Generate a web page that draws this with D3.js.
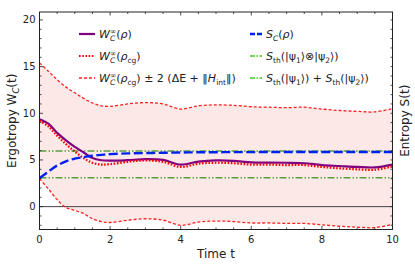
<!DOCTYPE html>
<html>
<head>
<meta charset="utf-8">
<script src="https://cdn.jsdelivr.net/npm/d3@7"></script>
<style>
body { margin: 0; background: white; }
svg { display: block; font-family: "DejaVu Sans", sans-serif; }
</style>
</head>
<body>
<svg></svg>
<script>
var w = 415;
var h = 268;

// time grid
var times = [0, 0.25, 0.5, 0.75, 1, 1.25, 1.5, 1.75, 2, 2.5, 3, 3.5, 4, 4.5, 5, 5.5, 6, 6.5, 7, 7.5, 8, 8.5, 9, 9.5, 10];
// W_C^inf(rho)
var wRho = [9.35, 8.9, 7.9, 7.1, 6.4, 5.8, 5.2, 4.97, 4.92, 4.98, 5.08, 5.0, 4.5, 4.82, 4.95, 4.9, 4.75, 4.72, 4.7, 4.65, 4.45, 4.35, 4.25, 4.2, 4.5];
// W_C^inf(rho_cg)
var wCg = [9.2, 8.6, 7.6, 6.7, 5.9, 5.2, 4.7, 4.5, 4.55, 4.8, 4.95, 4.8, 4.25, 4.6, 4.7, 4.65, 4.5, 4.5, 4.45, 4.45, 4.25, 4.1, 4.0, 3.95, 4.3];
// bounds of the band
var upper = [15.4, 14.5, 13.6, 12.8, 12.2, 11.6, 11.1, 10.8, 10.75, 11.0, 11.15, 11.0, 10.45, 10.8, 10.9, 10.85, 10.7, 10.65, 10.6, 10.65, 10.45, 10.3, 10.2, 10.15, 10.5];
var lower = [3.0, 1.9, 0.75, -0.1, -0.4, -0.75, -1.3, -1.6, -1.7, -1.45, -1.3, -1.45, -2.0, -1.65, -1.55, -1.6, -1.75, -1.75, -1.8, -1.8, -1.95, -2.1, -2.2, -2.25, -1.9];
// S_C(rho)
var sRho = [3.05, 3.75, 4.4, 4.85, 5.15, 5.3, 5.45, 5.55, 5.62, 5.7, 5.74, 5.77, 5.8, 5.82, 5.83, 5.84, 5.84, 5.85, 5.85, 5.85, 5.85, 5.85, 5.85, 5.85, 5.85];
var sThProduct = 5.97;
var sThSum = 3.1;

var xTicks = [0, 2, 4, 6, 8, 10];
var yTicks = [0, 5, 10, 15, 20];

var pl = 39.5, pr = 392.5, pt = 12, pb = 229.5;

var canvas = d3.select("svg")
	.attr("width", w)
	.attr("height", h);

var x = d3.scaleLinear().domain([0, 10]).range([pl, pr]);
var y = d3.scaleLinear().domain([-2.45, 20.85]).range([pb, pt]);

var clip = canvas.append("defs").append("clipPath").attr("id", "clip");
clip.append("rect").attr("x", pl).attr("y", pt).attr("width", pr - pl).attr("height", pb - pt);

var plot = canvas.append("g").attr("clip-path", "url(#clip)");

var rows = times.map(function (t, i) {
	return { t: t, w: wRho[i], cg: wCg[i], up: upper[i], lo: lower[i], s: sRho[i] };
});

var curve = d3.curveCatmullRom;

// band
plot.append("path")
	.datum(rows)
	.attr("d", d3.area().x(d => x(d.t)).y0(d => y(d.lo)).y1(d => y(d.up)).curve(curve))
	.attr("fill", "#fde8e8");

// zero line
plot.append("line")
	.attr("x1", pl).attr("x2", pr)
	.attr("y1", y(0)).attr("y2", y(0))
	.attr("stroke", "#444").attr("stroke-width", 1);

function line(key) {
	return d3.line().x(d => x(d.t)).y(d => y(d[key])).curve(curve);
}

// entropy reference lines
[sThProduct, sThSum].forEach(function (v) {
	plot.append("line")
		.attr("x1", pl).attr("x2", pr)
		.attr("y1", y(v)).attr("y2", y(v))
		.attr("stroke", "#55a03c").attr("stroke-width", 1.5)
		.attr("stroke-dasharray", "7,2,1.5,2,1.5,2");
});

["up", "lo"].forEach(function (k) {
	plot.append("path").datum(rows)
		.attr("d", line(k))
		.attr("fill", "none").attr("stroke", "#ff2020")
		.attr("stroke-width", 1.3).attr("stroke-dasharray", "3,2");
});

plot.append("path").datum(rows)
	.attr("d", line("w"))
	.attr("fill", "none").attr("stroke", "#800080").attr("stroke-width", 2.2);

plot.append("path").datum(rows)
	.attr("d", line("cg"))
	.attr("fill", "none").attr("stroke", "#ff0000")
	.attr("stroke-width", 2.2).attr("stroke-dasharray", "1.6,1.6");

plot.append("path").datum(rows)
	.attr("d", line("s"))
	.attr("fill", "none").attr("stroke", "#0022ee")
	.attr("stroke-width", 2.4).attr("stroke-dasharray", "9,3.5");

// frame
canvas.append("rect")
	.attr("x", pl).attr("y", pt)
	.attr("width", pr - pl).attr("height", pb - pt)
	.attr("fill", "none").attr("stroke", "#222").attr("stroke-width", 1);

// ticks (all inward)
var ticks = canvas.append("g").attr("stroke", "#222").attr("stroke-width", 0.8);
d3.range(0, 10.01, 0.5).forEach(function (t) {
	var major = xTicks.indexOf(t) >= 0;
	var len = major ? 3.5 : 2;
	ticks.append("line").attr("x1", x(t)).attr("x2", x(t)).attr("y1", pb).attr("y2", pb - len);
	ticks.append("line").attr("x1", x(t)).attr("x2", x(t)).attr("y1", pt).attr("y2", pt + len);
});
d3.range(-2, 20.01, 1).forEach(function (v) {
	var major = yTicks.indexOf(v) >= 0;
	var len = major ? 3.5 : 2;
	ticks.append("line").attr("x1", pl).attr("x2", pl + len).attr("y1", y(v)).attr("y2", y(v));
	ticks.append("line").attr("x1", pr).attr("x2", pr - 2).attr("y1", y(v)).attr("y2", y(v));
});

canvas.append("g").selectAll("text")
	.data(xTicks).join("text")
	.attr("x", d => x(d)).attr("y", pb + 13)
	.attr("text-anchor", "middle")
	.style("font-size", "10px").attr("fill", "#222")
	.text(d => d);

canvas.append("g").selectAll("text")
	.data(yTicks).join("text")
	.attr("x", pl - 4).attr("y", d => y(d) + 3.5)
	.attr("text-anchor", "end")
	.style("font-size", "10px").attr("fill", "#222")
	.text(d => d);

// axis labels
canvas.append("text")
	.attr("x", (pl + pr) / 2).attr("y", 258)
	.attr("text-anchor", "middle").style("font-size", "12px").attr("fill", "#222")
	.text("Time t");

var yl = canvas.append("text")
	.attr("transform", "translate(16," + ((pt + pb) / 2) + ") rotate(-90)")
	.attr("text-anchor", "middle").style("font-size", "12px").attr("fill", "#222");
yl.append("tspan").text("Ergotropy W");
yl.append("tspan").text("C").attr("dy", 3).style("font-size", "8.5px").style("font-style", "italic");
yl.append("tspan").text("(t)").attr("dy", -3);

canvas.append("text")
	.attr("transform", "translate(409," + ((pt + pb) / 2) + ") rotate(-90)")
	.attr("text-anchor", "middle").style("font-size", "12px").attr("fill", "#222")
	.text("Entropy S(t)");

// legend
function mathText(g, tx, ty, parts) {
	var text = g.append("text").attr("x", tx).attr("y", ty)
		.style("font-size", "11px").attr("fill", "#222");
	var cur = 0;
	parts.forEach(function (p) {
		var target = p.k === "sup" ? -4 : p.k === "sub" ? 3 : 0;
		var ts = text.append("tspan").text(p.t).attr("dy", target - cur);
		if (p.dx) ts.attr("dx", p.dx);
		if (p.k) ts.style("font-size", "7.5px");
		if (p.i) ts.style("font-style", "italic");
		cur = target;
	});
}

var W = [{ t: "W", i: 1 }, { t: "∞", k: "sup" }, { t: "C", k: "sub", i: 1, dx: -6.2 }];

var legend = [
	{ x: 79, y: 35, stroke: "#800080", sw: 2.2, dash: null,
		parts: W.concat([{ t: "(", dx: 1 }, { t: "ρ", i: 1 }, { t: ")" }]) },
	{ x: 79, y: 57, stroke: "#ff0000", sw: 2.2, dash: "1.6,1.6",
		parts: W.concat([{ t: "(", dx: 1 }, { t: "ρ", i: 1 }, { t: "cg", k: "sub" }, { t: ")" }]) },
	{ x: 79, y: 79, stroke: "#ff2020", sw: 1.3, dash: "3,2",
		parts: W.concat([{ t: "(", dx: 1 }, { t: "ρ", i: 1 }, { t: "cg", k: "sub" }, { t: ") ± 2 (ΔE + ‖" }, { t: "H", i: 1 }, { t: "int", k: "sub" }, { t: "‖)" }]) },
	{ x: 250, y: 35, stroke: "#0022ee", sw: 2.4, dash: "5,2",
		parts: [{ t: "S", i: 1 }, { t: "C", k: "sub", i: 1 }, { t: "(" }, { t: "ρ", i: 1 }, { t: ")" }] },
	{ x: 250, y: 57, stroke: "#44cc22", sw: 1.5, dash: "5,1.5,1.5,1.5",
		parts: [{ t: "S", i: 1 }, { t: "th", k: "sub" }, { t: "(|ψ" }, { t: "1", k: "sub" }, { t: "⟩⊗|ψ" }, { t: "2", k: "sub" }, { t: "⟩)" }] },
	{ x: 250, y: 79, stroke: "#44cc22", sw: 1.5, dash: "5,1.5,1.5,1.5",
		parts: [{ t: "S", i: 1 }, { t: "th", k: "sub" }, { t: "(|ψ" }, { t: "1", k: "sub" }, { t: "⟩) + " }, { t: "S", i: 1 }, { t: "th", k: "sub" }, { t: "(|ψ" }, { t: "2", k: "sub" }, { t: "⟩)" }] }
];

var lg = canvas.append("g");
legend.forEach(function (d) {
	var len = d.x < 200 ? 16 : 12;
	lg.append("line")
		.attr("x1", d.x).attr("x2", d.x + len)
		.attr("y1", d.y - 1).attr("y2", d.y - 1)
		.attr("stroke", d.stroke).attr("stroke-width", d.sw)
		.attr("stroke-dasharray", d.dash);
	mathText(lg, d.x + len + 4, d.y + 3, d.parts);
});
</script>
</body>
</html>
